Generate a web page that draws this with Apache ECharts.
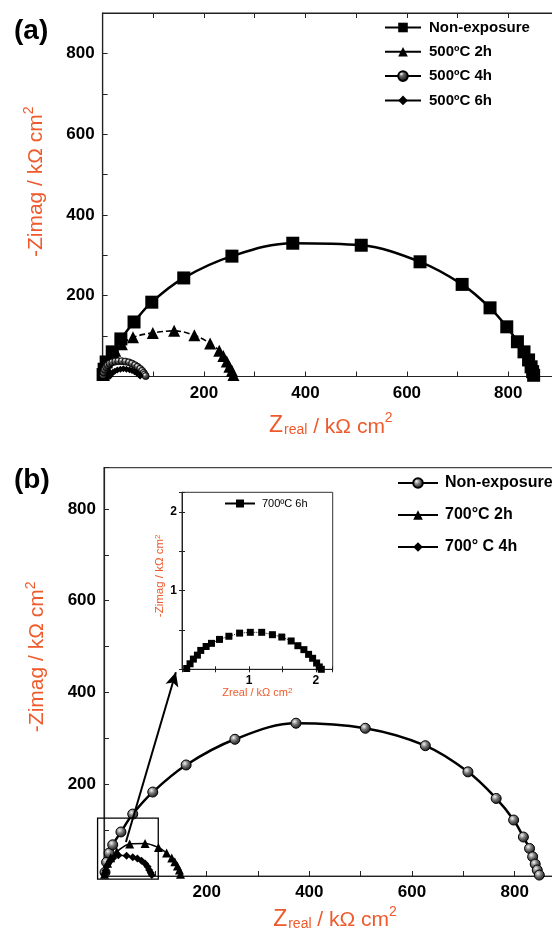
<!DOCTYPE html>
<html>
<head>
<meta charset="utf-8">
<script src="https://cdn.jsdelivr.net/npm/echarts@6/dist/echarts.min.js"></script>
<style>
  html, body { margin: 0; padding: 0; background: #fff; }
  #chart { width: 552px; height: 934px; }
</style>
</head>
<body>
<div id="chart"></div>
<script>
// ---- panel (a): 500 ºC exposures, [Zreal, -Zimag] in kΩ cm2
const aNonExposure = [[1,5],[3,18],[7,36],[19,61],[36,93],[62,135],[97,184],[160,244],[255,298],[375,330],[510,325],[626,284],[709,228],[764,170],[797,123],[818,86],[831,61],[840,41],[845,24],[848,12],[850,3]];
const a500_2h = [[2,10],[6,28],[14,47],[25,64],[38,80],[60,97],[99,108],[141,113],[181,102],[212,82],[230,64],[238,51],[245,37],[250,24],[255,14],[258,4]];
const a500_4h = [[1,3],[2,10],[4,17],[7,23],[10,28],[14,32],[19,35],[25,37],[31,38],[38,38],[45,37],[52,35],[58,32],[64,28],[69,24],[74,19],[78,14],[81,9],[83,5],[85,1]];
const a500_6h = [[15,1],[17,6],[20,10],[24,13],[29,16],[35,18],[41,19],[47,18],[53,17],[58,15],[63,12],[67,9],[70,6],[73,3],[74,1]];

// ---- panel (b): 700 °C exposures
const bNonExposure = [[2,8],[5,30],[10,50],[17,68],[33,96],[56,135],[95,183],[160,242],[255,298],[374,333],[509,322],[626,284],[709,227],[764,169],[798,122],[817,85],[829,60],[835,42],[840,26],[844,13],[848,2]];
const b700_2h = [[1,4],[3,14],[7,28],[13,40],[25,53],[50,70],[80,71],[106,62],[122,50],[132,39],[138,31],[143,22],[147,13],[149,4]];
const b700_4h = [[1,3],[3,12],[6,22],[11,31],[18,39],[28,45],[44,44],[56,41],[65,38],[73,33],[80,27],[85,20],[88,13],[91,7],[93,2]];

// ---- inset: 700 ºC 6h
const inset700_6h = [[0.07,0.01],[0.12,0.07],[0.17,0.13],[0.23,0.18],[0.28,0.24],[0.36,0.29],[0.44,0.33],[0.56,0.38],[0.70,0.42],[0.86,0.46],[1.02,0.47],[1.19,0.47],[1.35,0.44],[1.49,0.41],[1.63,0.36],[1.73,0.30],[1.82,0.25],[1.89,0.19],[1.95,0.14],[2.01,0.08],[2.05,0.03],[2.08,0.00]];

const aNames = ['Non-exposure', '500ºC 2h', '500ºC 4h', '500ºC 6h'];
const bNames = ['Non-exposure ', '700°C 2h', '700° C 4h'];
const insetName = '700ºC 6h';

// zoom box and arrow of panel (b), in data units
const zoomBox = [[-12.5, -7], [105.7, 126]];
const arrowLine = [[42.7, 74], [140, 444]];

const FONT = '"Liberation Sans", Arial, sans-serif';
const ORANGE = '#EF5A2C';

const sphereDark = {
  type: 'radial', x: 0.35, y: 0.3, r: 0.75,
  colorStops: [{ offset: 0, color: '#ffffff' }, { offset: 0.3, color: '#666' }, { offset: 1, color: '#000' }],
};
const sphereGray = {
  type: 'radial', x: 0.38, y: 0.35, r: 0.7,
  colorStops: [{ offset: 0, color: '#f4f4f4' }, { offset: 0.4, color: '#7a7a7a' }, { offset: 1, color: '#0a0a0a' }],
};

const bigLabels = (v) => (v > 0 && v < 900 && v % 200 === 0 ? String(v) : '');
const insetLabels = (v) => (v === 1 || v === 2 ? String(v) : '');

const mainX = (gridIndex, extra) => Object.assign({
  type: 'value', gridIndex, min: 0, max: 900, interval: 100,
  axisLine: { lineStyle: { color: '#222', width: 1.2 } },
  axisTick: { inside: true, length: 5, lineStyle: { color: '#222' } },
  splitLine: { show: false },
  axisLabel: { formatter: bigLabels, fontSize: 17, fontWeight: 'bold', color: '#000', margin: 8, fontFamily: FONT },
  name: '{z|Z}{r|real}{t| / kΩ cm}{s|2}',
  nameLocation: 'middle',
  nameGap: 35,
  nameTextStyle: {
    color: ORANGE, fontFamily: FONT,
    rich: {
      z: { fontSize: 23, color: ORANGE, fontFamily: FONT, verticalAlign: 'bottom', lineHeight: 26 },
      r: { fontSize: 14, color: ORANGE, fontFamily: FONT, verticalAlign: 'bottom', lineHeight: 26, padding: [0, 0, 0, 1] },
      t: { fontSize: 21, color: ORANGE, fontFamily: FONT, verticalAlign: 'bottom', lineHeight: 26 },
      s: { fontSize: 14, color: ORANGE, fontFamily: FONT, verticalAlign: 'top', lineHeight: 14 },
    },
  },
}, extra || {});

const yNameStyle = (pad) => ({
  color: ORANGE, fontFamily: FONT,
  padding: [0, 0, 0, pad],
  rich: {
    t: { fontSize: 21, color: ORANGE, fontFamily: FONT, verticalAlign: 'bottom', lineHeight: 24 },
    s: { fontSize: 14, color: ORANGE, fontFamily: FONT, verticalAlign: 'top', lineHeight: 14 },
  },
});

const mainY = (gridIndex, max, pad) => ({
  type: 'value', gridIndex, min: 0, max, interval: 100,
  axisLine: { lineStyle: { color: '#222', width: 1.2 } },
  axisTick: { inside: true, length: 5, lineStyle: { color: '#222' } },
  splitLine: { show: false },
  axisLabel: { formatter: bigLabels, fontSize: 17, fontWeight: 'bold', color: '#000', margin: 8, fontFamily: FONT },
  name: '{t|-Zimag / kΩ cm}{s|2}',
  nameLocation: 'middle',
  nameRotate: 90,
  nameGap: 56,
  nameTextStyle: yNameStyle(pad),
});

const insetAxis = (gridIndex, extra) => Object.assign({
  type: 'value', gridIndex, min: 0, max: 2.25, interval: 0.5,
  axisLine: { lineStyle: { color: '#222', width: 1 } },
  axisTick: { inside: true, length: 3, lineStyle: { color: '#222' } },
  splitLine: { show: false },
  axisLabel: { formatter: insetLabels, fontSize: 12, fontWeight: 'bold', color: '#000', margin: 5, fontFamily: FONT },
}, extra || {});

const line = (name, data, xi, yi, symbol, size, lineStyle, more) => Object.assign({
  name, type: 'line', data, xAxisIndex: xi, yAxisIndex: yi,
  smooth: 0.35, symbol, symbolSize: size, showSymbol: true,
  itemStyle: { color: '#000' },
  lineStyle: Object.assign({ color: '#000' }, lineStyle),
  emphasis: { disabled: true },
  animation: false,
}, more || {});

const myChart = echarts.init(document.getElementById('chart'), null, { renderer: 'canvas' });

const option = {
  animation: false,
  backgroundColor: '#fff',
  textStyle: { fontFamily: FONT },
  title: [
    { text: '(a)', left: 9, top: 12, textStyle: { fontSize: 28, fontWeight: 'bold', color: '#000', fontFamily: FONT } },
    { text: '(b)', left: 9, top: 461, textStyle: { fontSize: 28, fontWeight: 'bold', color: '#000', fontFamily: FONT } },
  ],
  grid: [
    { left: 102.6, top: 13, width: 456.4, height: 363.5, show: true, borderColor: '#222', borderWidth: 1.2, outerBoundsMode: 'none' },
    { left: 104, top: 467.7, width: 462, height: 408.3, show: true, borderColor: '#444', borderWidth: 1.2, outerBoundsMode: 'none' },
    { left: 182, top: 492.3, width: 150.7, height: 177, show: true, borderColor: '#333', borderWidth: 1, backgroundColor: '#fff', outerBoundsMode: 'none' },
  ],
  xAxis: [
    mainX(0),
    mainX(0, { position: 'top', name: '', axisLabel: { show: false } }),
    mainX(1, { nameGap: 29 }),
    insetAxis(2, {
      name: 'Zreal / kΩ cm{s|2}', nameLocation: 'middle', nameGap: 14,
      nameTextStyle: { color: ORANGE, fontSize: 11, fontFamily: FONT, rich: { s: { fontSize: 8, color: ORANGE, verticalAlign: 'top' } } },
    }),
    insetAxis(2, { position: 'top', axisLabel: { show: false } }),
  ],
  yAxis: [
    mainY(0, 900, 26),
    mainY(1, 890, 30),
    insetAxis(2, {
      name: '-Zimag / kΩ cm{s|2}', nameLocation: 'middle', nameRotate: 90, nameGap: 16,
      nameTextStyle: { color: ORANGE, fontSize: 11.5, fontFamily: FONT, padding: [0, 0, 0, 10], rich: { s: { fontSize: 8, color: ORANGE, verticalAlign: 'top' } } },
    }),
    insetAxis(2, { position: 'right', axisLabel: { show: false } }),
  ],
  legend: [
    {
      data: [
        { name: aNames[0] },
        { name: aNames[1], lineStyle: { type: 'solid' } },
        { name: aNames[2] },
        { name: aNames[3] },
      ],
      orient: 'vertical', left: 384, top: 20, padding: 0, itemWidth: 36, itemHeight: 12, itemGap: 9.3,
      selectedMode: false,
      textStyle: { fontSize: 15, fontWeight: 'bold', color: '#000', fontFamily: FONT, padding: [0, 0, 0, 3] },
    },
    {
      data: bNames, orient: 'vertical', left: 397, top: 475, padding: 0, itemWidth: 40, itemHeight: 12, itemGap: 16,
      selectedMode: false,
      textStyle: { fontSize: 16, fontWeight: 'bold', color: '#000', fontFamily: FONT, padding: [0, 0, 0, 2] },
    },
    {
      data: [{ name: insetName, lineStyle: { type: 'solid' } }], left: 224, top: 498, padding: 0, itemWidth: 30, itemHeight: 10,
      selectedMode: false,
      textStyle: { fontSize: 11, color: '#000', fontFamily: FONT, padding: [0, 0, 0, 2] },
    },
  ],
  series: [
    line(aNames[0], aNonExposure, 0, 0, 'rect', 13, { width: 2.5 }),
    line(aNames[1], a500_2h, 0, 0, 'triangle', 12, { width: 1.6, type: [6, 3] }),
    line(aNames[2], a500_4h, 0, 0, 'circle', 7, { width: 2.5 }, { itemStyle: { color: sphereDark, borderColor: '#000', borderWidth: 0.8 } }),
    line(aNames[3], a500_6h, 0, 0, 'diamond', 7, { width: 1.2 }),

    line(bNames[0], bNonExposure, 2, 1, 'circle', 10, { width: 2.5 }, {
      itemStyle: { color: sphereGray, borderColor: '#000', borderWidth: 1 },
      markLine: {
        silent: true, symbol: ['none', 'arrow'], symbolSize: [10, 14], animation: false,
        label: { show: false },
        lineStyle: { color: '#000', width: 2, type: 'solid' },
        data: [[{ coord: arrowLine[0] }, { coord: arrowLine[1] }]],
      },
    }),
    line(bNames[1], b700_2h, 2, 1, 'triangle', 9, { width: 1.5 }),
    line(bNames[2], b700_4h, 2, 1, 'diamond', 8, { width: 1.5 }),

    line(insetName, inset700_6h, 3, 2, 'rect', 7, { width: 1, type: 'dotted' }, { smooth: false }),
  ],
};

myChart.setOption(option);

// zoom box around the origin of panel (b), placed through the grid's scales
const p0 = myChart.convertToPixel({ gridIndex: 1 }, zoomBox[0]);
const p1 = myChart.convertToPixel({ gridIndex: 1 }, zoomBox[1]);
myChart.setOption({
  graphic: [{
    type: 'rect', z: 20, silent: true,
    shape: { x: p0[0], y: p1[1], width: p1[0] - p0[0], height: p0[1] - p1[1] },
    style: { fill: 'none', stroke: '#000', lineWidth: 1.3 },
  }],
});
</script>
</body>
</html>
